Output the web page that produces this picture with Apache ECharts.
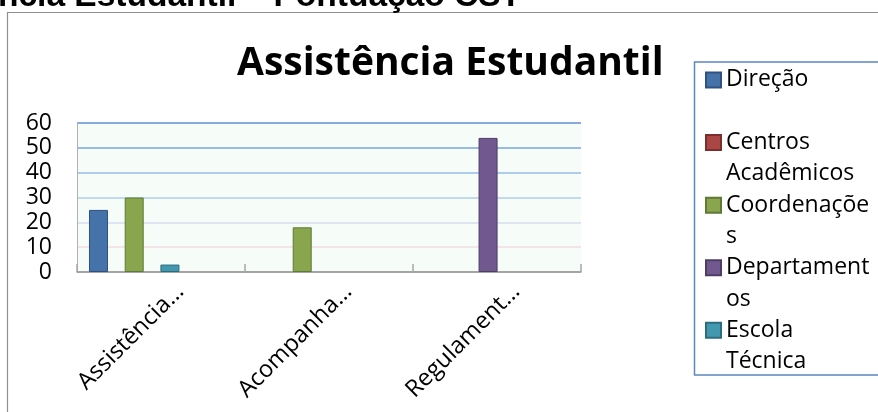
<!DOCTYPE html>
<html>
<head>
<meta charset="utf-8">
<script src="https://cdn.jsdelivr.net/npm/echarts@6/dist/echarts.min.js"></script>
<style>
html,body{margin:0;padding:0;background:#fff;}
#chart{width:878px;height:412px;}
</style>
</head>
<body>
<div id="chart"></div>
<script>
const chartTitle = 'Assistência Estudantil';
const pageHeading = 'ncia Estudantil – Pontuação CST';
const categories = ['Assistência…', 'Acompanha…', 'Regulament…'];
const yTicks = [0, 10, 20, 30, 40, 50, 60];

const seriesNames = ['Direção', 'Centros Acadêmicos', 'Coordenações', 'Departamentos', 'Escola Técnica'];
const legendLabels = ['Direção\n', 'Centros\nAcadêmicos', 'Coordenaçõe\ns', 'Departament\nos', 'Escola\nTécnica'];
const direcao = [25, null, null];
const centrosAcademicos = [null, null, null];
const coordenacoes = [30, 18, null];
const departamentos = [null, null, 54];
const escolaTecnica = [3, null, null];
// further series of the source workbook whose legend entries were cut off (no visible bars)
const hiddenSeriesNames = ['Série 6', 'Série 7', 'Série 8'];

const fillColors = ['#4572a8', '#aa4643', '#89a54e', '#71588f', '#4198af'];
const borderColors = ['#2f5080', '#7a2f2d', '#5f7a34', '#4f3d66', '#2d6c7e'];

const values = [direcao, centrosAcademicos, coordenacoes, departamentos, escolaTecnica];

const chart = echarts.init(document.getElementById('chart'), null, {renderer: 'canvas'});

const series = seriesNames.map((name, i) => ({
  name: name,
  type: 'bar',
  data: values[i],
  barWidth: 19,
  barGap: '-6%',
  itemStyle: {color: fillColors[i], borderColor: borderColors[i], borderWidth: 1},
  emphasis: {disabled: true}
}));
hiddenSeriesNames.forEach(name => {
  series.push({name: name, type: 'bar', data: [], barWidth: 19, barGap: '-6%'});
});

const labelMap = {};
seriesNames.forEach((n, i) => { labelMap[n] = legendLabels[i]; });

const option = {
  animation: false,
  backgroundColor: '#ffffff',
  title: {
    text: chartTitle,
    left: 237,
    top: 44,
    padding: 0,
    textStyle: {fontFamily: 'Open Sans', fontWeight: 'bold', fontSize: 39, color: '#000'}
  },
  legend: {
    data: seriesNames,
    orient: 'vertical',
    left: 705,
    top: 33,
    padding: 0,
    icon: 'rect',
    itemWidth: 15,
    itemHeight: 15,
    itemGap: -31.3,
    textStyle: {fontFamily: 'Open Sans', fontSize: 23, color: '#000', lineHeight: 31.3},
    formatter: name => '\n' + labelMap[name],
    selectedMode: false
  },
  grid: {
    left: 77, top: 123, width: 504, height: 149,
    show: true, backgroundColor: '#f6fcf8', borderWidth: 0,
    containLabel: false
  },
  xAxis: {
    type: 'category',
    data: categories,
    axisLine: {lineStyle: {color: '#9f9f9f', width: 1.5}},
    axisTick: {show: true, inside: true, length: 8, lineStyle: {color: '#a6a6a6', width: 1.5}},
    axisLabel: {
      interval: 0, rotate: 45, margin: 35,
      padding: [0, -27, 0, 0],
      fontFamily: 'Open Sans', fontSize: 23.5, color: '#000'
    },
    splitLine: {show: false}
  },
  yAxis: {
    type: 'value',
    min: 0, max: 60, interval: 10,
    axisLine: {show: true, lineStyle: {color: '#b0b0b0', width: 1}},
    axisTick: {show: false},
    axisLabel: {margin: 25, fontFamily: 'Open Sans', fontSize: 23, color: '#000',
      formatter: v => String(yTicks[yTicks.indexOf(v)])},
    splitLine: {show: true, lineStyle: {width: 1.5,
      color: ['#a0a0a0', '#f2dde6', '#d5dcf1', '#b3cdee', '#97bde9', '#78a7de', '#5e90d2']}}
  },
  series: series,
  graphic: [
    {type: 'polyline', silent: true, z: -1,
      shape: {points: [[7.5, 430], [7.5, 12.5], [890, 12.5]]},
      style: {stroke: '#8f8f8f', lineWidth: 1.2, fill: null}},
    {type: 'rect', silent: true, z: -1,
      shape: {x: 694.5, y: 62, width: 220, height: 313},
      style: {stroke: '#5b86c0', lineWidth: 1.5, fill: '#fff'}},
    {type: 'text', silent: true, x: -2, y: -3,
      style: {text: pageHeading, font: 'bold 33.5px "Liberation Sans"', fill: '#000',
        align: 'left', verticalAlign: 'middle'}}
  ]
};
chart.setOption(option);
</script>
</body>
</html>
